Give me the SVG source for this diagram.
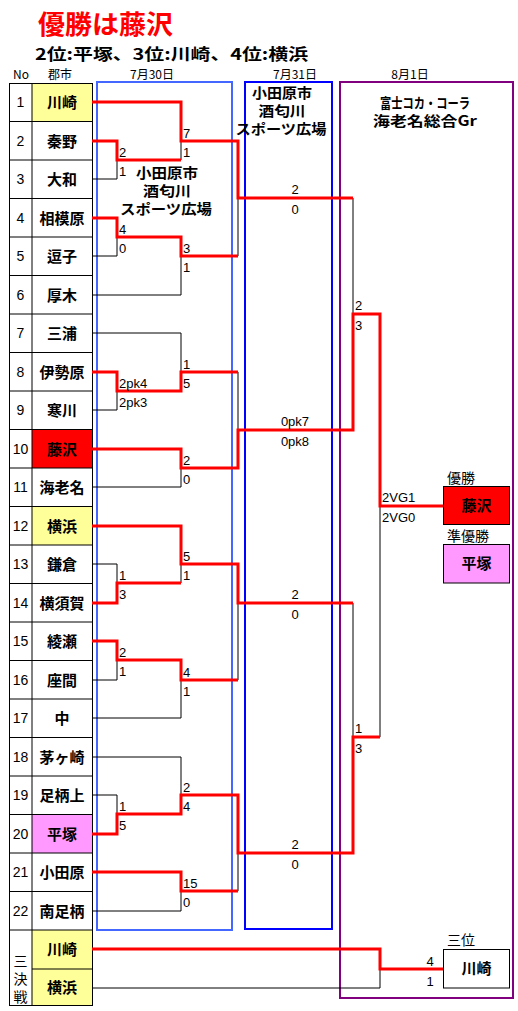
<svg xmlns="http://www.w3.org/2000/svg" width="518" height="1011" viewBox="0 0 518 1011">
<style>
text{font-family:"Noto Sans CJK JP","Liberation Sans",sans-serif;fill:#000}
.ttl{font-size:26px;font-weight:bold;fill:#FF0000}
.sub{font-size:16px;font-weight:bold}
.hd{font-size:12px}
.num{font-size:14px;text-anchor:middle;font-family:"Liberation Sans","Noto Sans CJK JP",sans-serif}
.nm{font-size:15px;font-weight:bold;text-anchor:middle}
.venue{font-size:14px;font-weight:bold;text-anchor:middle}
.sc{font-size:13px;font-family:"Liberation Sans",sans-serif}
.scm{font-size:13px;font-family:"Liberation Sans",sans-serif;text-anchor:middle}
.lbl{font-size:14px}
.grid{stroke:#000;stroke-width:1;fill:none}
.win{stroke:#FF0000;stroke-width:3;fill:none;stroke-linejoin:miter}
.lose{stroke:#000;stroke-width:1;fill:none}
</style>

<g id="title">
<text class="ttl" x="38" y="34" textLength="135" lengthAdjust="spacingAndGlyphs">優勝は藤沢</text>
<text class="sub" x="35" y="60" textLength="273" lengthAdjust="spacingAndGlyphs">2位:平塚、3位:川崎、4位:横浜</text>
<text class="hd" x="13" y="79">No</text>
<text class="hd" x="48" y="79">郡市</text>
<text class="hd" x="152" y="79" text-anchor="middle">7月30日</text>
<text class="hd" x="295" y="79" text-anchor="middle">7月31日</text>
<text class="hd" x="410" y="79" text-anchor="middle">8月1日</text>
</g>

<g id="venues">
<rect id="box-0730" x="97" y="82" width="135" height="848" fill="none" stroke="#4468FF" stroke-width="2"/>
<rect id="box-0731" x="245" y="82" width="87" height="847" fill="none" stroke="#0000FF" stroke-width="2"/>
<rect id="box-0801" x="340" y="82" width="173" height="916" fill="none" stroke="#800080" stroke-width="2"/>
<text class="venue" x="167" y="178" textLength="62" lengthAdjust="spacingAndGlyphs">小田原市</text>
<text class="venue" x="167" y="196" textLength="48" lengthAdjust="spacingAndGlyphs">酒匂川</text>
<text class="venue" x="166" y="214" textLength="92" lengthAdjust="spacingAndGlyphs">スポーツ広場</text>
<text class="venue" x="282" y="98" textLength="60" lengthAdjust="spacingAndGlyphs">小田原市</text>
<text class="venue" x="282" y="116" textLength="47" lengthAdjust="spacingAndGlyphs">酒匂川</text>
<text class="venue" x="281" y="134" textLength="91" lengthAdjust="spacingAndGlyphs">スポーツ広場</text>
<text class="venue" x="425" y="108" textLength="90" lengthAdjust="spacingAndGlyphs">富士コカ・コーラ</text>
<text class="venue" x="425" y="126" textLength="104" lengthAdjust="spacingAndGlyphs">海老名総合Gr</text>
</g>

<g id="table">
<rect x="32" y="83" width="60" height="38.5" fill="#FFFF99"/>
<rect x="32" y="429.5" width="60" height="38.5" fill="#FF0000"/>
<rect x="32" y="506.5" width="60" height="38.5" fill="#FFFF99"/>
<rect x="32" y="814.5" width="60" height="38.5" fill="#FF99FF"/>
<rect x="32" y="930" width="60" height="75" fill="#FFFF99"/>
<path class="grid" d="M9.5 83V1005.5M32 83V1005.5M92.5 83V1005.5M9 83.5H93M9 121.5H93M9 160H93M9 198.5H93M9 237H93M9 275.5H93M9 314H93M9 352.5H93M9 391H93M9 429.5H93M9 468H93M9 506.5H93M9 545H93M9 583.5H93M9 622H93M9 660.5H93M9 699H93M9 737.5H93M9 776H93M9 814.5H93M9 853H93M9 891.5H93M9 930H93M32 969H93M9 1005.5H93"/>
</g>

<g id="teams">
<g id="t1"><text class="num" x="20.5" y="107">1</text><text class="nm" x="62" y="107.5">川崎</text></g>
<g id="t2"><text class="num" x="20.5" y="146">2</text><text class="nm" x="62" y="146.5">秦野</text></g>
<g id="t3"><text class="num" x="20.5" y="184">3</text><text class="nm" x="62" y="184.5">大和</text></g>
<g id="t4"><text class="num" x="20.5" y="223">4</text><text class="nm" x="62" y="223.5">相模原</text></g>
<g id="t5"><text class="num" x="20.5" y="261">5</text><text class="nm" x="62" y="261.5">逗子</text></g>
<g id="t6"><text class="num" x="20.5" y="300">6</text><text class="nm" x="62" y="300.5">厚木</text></g>
<g id="t7"><text class="num" x="20.5" y="338">7</text><text class="nm" x="62" y="338.5">三浦</text></g>
<g id="t8"><text class="num" x="20.5" y="377">8</text><text class="nm" x="62" y="377.5">伊勢原</text></g>
<g id="t9"><text class="num" x="20.5" y="415">9</text><text class="nm" x="62" y="415.5">寒川</text></g>
<g id="t10"><text class="num" x="20.5" y="454">10</text><text class="nm" x="62" y="454.5">藤沢</text></g>
<g id="t11"><text class="num" x="20.5" y="492">11</text><text class="nm" x="62" y="492.5">海老名</text></g>
<g id="t12"><text class="num" x="20.5" y="531">12</text><text class="nm" x="62" y="531.5">横浜</text></g>
<g id="t13"><text class="num" x="20.5" y="569">13</text><text class="nm" x="62" y="569.5">鎌倉</text></g>
<g id="t14"><text class="num" x="20.5" y="608">14</text><text class="nm" x="62" y="608.5">横須賀</text></g>
<g id="t15"><text class="num" x="20.5" y="646">15</text><text class="nm" x="62" y="646.5">綾瀬</text></g>
<g id="t16"><text class="num" x="20.5" y="685">16</text><text class="nm" x="62" y="685.5">座間</text></g>
<g id="t17"><text class="num" x="20.5" y="723">17</text><text class="nm" x="62" y="723.5">中</text></g>
<g id="t18"><text class="num" x="20.5" y="762">18</text><text class="nm" x="62" y="762.5">茅ヶ崎</text></g>
<g id="t19"><text class="num" x="20.5" y="800">19</text><text class="nm" x="62" y="800.5">足柄上</text></g>
<g id="t20"><text class="num" x="20.5" y="839">20</text><text class="nm" x="62" y="839.5">平塚</text></g>
<g id="t21"><text class="num" x="20.5" y="877">21</text><text class="nm" x="62" y="877.5">小田原</text></g>
<g id="t22"><text class="num" x="20.5" y="916">22</text><text class="nm" x="62" y="916.5">南足柄</text></g>
<g id="third-playoff">
<text class="lbl" x="20.5" y="966" text-anchor="middle">三</text>
<text class="lbl" x="20.5" y="984" text-anchor="middle">決</text>
<text class="lbl" x="20.5" y="1002" text-anchor="middle">戦</text>
<text class="nm" x="62" y="955">川崎</text>
<text class="nm" x="62" y="993">横浜</text>
</g>
</g>

<g id="connectors">
<polyline class="lose" points="92,179 117,179 117,160"/>
<polyline class="lose" points="181,141 181,160"/>
<polyline class="lose" points="92,256 117,256 117,237"/>
<polyline class="lose" points="92,295 181,295 181,256"/>
<polyline class="lose" points="238,256 238,198"/>
<polyline class="lose" points="92,333 181,333 181,372"/>
<polyline class="lose" points="92,410 117,410 117,391"/>
<polyline class="lose" points="92,487 181,487 181,468"/>
<polyline class="lose" points="238,372 238,430"/>
<polyline class="lose" points="353,198 353,314"/>
<polyline class="lose" points="92,564 117,564 117,583"/>
<polyline class="lose" points="181,583 181,564"/>
<polyline class="lose" points="92,680 117,680 117,660"/>
<polyline class="lose" points="92,718 181,718 181,680"/>
<polyline class="lose" points="238,680 238,603"/>
<polyline class="lose" points="92,757 181,757 181,795"/>
<polyline class="lose" points="92,795 117,795 117,814"/>
<polyline class="lose" points="92,911 181,911 181,891"/>
<polyline class="lose" points="238,891 238,853"/>
<polyline class="lose" points="353,603 353,737"/>
<polyline class="lose" points="380,737 380,506"/>
<polyline class="lose" points="92,988 380,988 380,969"/>

<polyline class="win" points="92,102 181,102 181,141 238,141 238,198 353,198"/>
<polyline class="win" points="92,141 117,141 117,160 181,160"/>
<polyline class="win" points="92,218 117,218 117,237 181,237 181,256 238,256"/>
<polyline class="win" points="92,372 117,372 117,391 181,391 181,372 238,372"/>
<polyline class="win" points="92,449 181,449 181,468 238,468 238,430 353,430 353,314 380,314 380,506 443,506"/>
<polyline class="win" points="92,526 181,526 181,564 238,564 238,603 353,603"/>
<polyline class="win" points="92,603 117,603 117,583 181,583"/>
<polyline class="win" points="92,641 117,641 117,660 181,660 181,680 238,680"/>
<polyline class="win" points="92,834 117,834 117,814 181,814 181,795 238,795 238,853 353,853 353,737 380,737"/>
<polyline class="win" points="92,872 181,872 181,891 238,891"/>
<polyline class="win" points="92,949 380,949 380,969 443,969"/>
</g>

<g id="scores">
<text class="sc" x="119" y="157">2</text><text class="sc" x="119" y="176">1</text>
<text class="sc" x="119" y="234">4</text><text class="sc" x="119" y="253">0</text>
<text class="sc" x="119" y="388">2pk4</text><text class="sc" x="119" y="407">2pk3</text>
<text class="sc" x="119" y="580">1</text><text class="sc" x="119" y="599">3</text>
<text class="sc" x="119" y="657">2</text><text class="sc" x="119" y="676">1</text>
<text class="sc" x="119" y="811">1</text><text class="sc" x="119" y="830">5</text>
<text class="sc" x="183" y="138">7</text><text class="sc" x="183" y="157">1</text>
<text class="sc" x="183" y="253">3</text><text class="sc" x="183" y="272">1</text>
<text class="sc" x="183" y="369">1</text><text class="sc" x="183" y="388">5</text>
<text class="sc" x="183" y="465">2</text><text class="sc" x="183" y="484">0</text>
<text class="sc" x="183" y="561">5</text><text class="sc" x="183" y="580">1</text>
<text class="sc" x="183" y="677">4</text><text class="sc" x="183" y="696">1</text>
<text class="sc" x="183" y="792">2</text><text class="sc" x="183" y="811">4</text>
<text class="sc" x="183" y="888">15</text><text class="sc" x="183" y="907">0</text>
<text class="scm" x="295" y="194">2</text><text class="scm" x="295" y="214">0</text>
<text class="scm" x="295" y="426">0pk7</text><text class="scm" x="295" y="446">0pk8</text>
<text class="scm" x="295" y="599">2</text><text class="scm" x="295" y="619">0</text>
<text class="scm" x="295" y="849">2</text><text class="scm" x="295" y="869">0</text>
<text class="sc" x="355" y="310">2</text><text class="sc" x="355" y="330">3</text>
<text class="sc" x="355" y="733">1</text><text class="sc" x="355" y="753">3</text>
<text class="sc" x="382" y="502">2VG1</text><text class="sc" x="382" y="522">2VG0</text>
<text class="scm" x="430" y="966">4</text><text class="scm" x="430" y="986">1</text>
</g>

<g id="champion">
<text class="lbl" x="447" y="483">優勝</text>
<rect x="443.5" y="486.5" width="66" height="38" fill="#FF0000" stroke="#000" stroke-width="1"/>
<text class="nm" x="476.5" y="511">藤沢</text>
</g>
<g id="runner-up">
<text class="lbl" x="447" y="541">準優勝</text>
<rect x="443.5" y="544.5" width="66" height="38.5" fill="#FF99FF" stroke="#000" stroke-width="1"/>
<text class="nm" x="476.5" y="569">平塚</text>
</g>
<g id="third-place">
<text class="lbl" x="447" y="945">三位</text>
<rect x="443.5" y="949.5" width="66" height="38.5" fill="#FFFFFF" stroke="#000" stroke-width="1"/>
<text class="nm" x="476.5" y="974">川崎</text>
</g>
</svg>
